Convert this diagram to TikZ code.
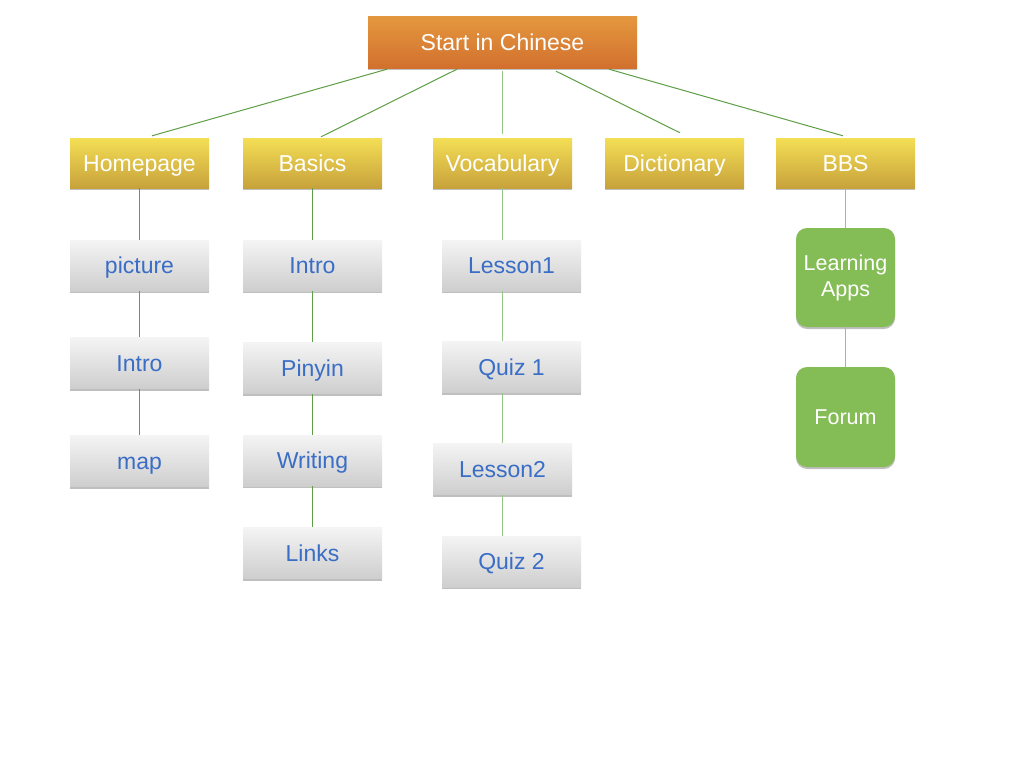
\documentclass[tikz,border=0pt]{standalone}
\usepackage{fontspec}
\setmainfont{Liberation Sans}
\usetikzlibrary{shadows,calc}
\definecolor{orgtop}{HTML}{E4973E}
\definecolor{orgbot}{HTML}{D2702E}
\definecolor{yeltop}{HTML}{F4DE55}
\definecolor{yelbot}{HTML}{C7A23B}
\definecolor{grytop}{HTML}{F4F4F4}
\definecolor{grybot}{HTML}{CECECE}
\definecolor{leaftext}{HTML}{3A6DC5}
\definecolor{appgreen}{HTML}{84BD55}
\definecolor{linkgreen}{HTML}{5E9E46}
\definecolor{linklight}{HTML}{94C585}
\tikzset{
  boxshadow/.style={drop shadow={shadow xshift=0pt,shadow yshift=-2pt,opacity=0.25,fill=black}},
  boxtext/.style={font=\fontsize{23}{26}\selectfont,text height=16.5pt,text depth=0pt},
  topbox/.style={rectangle,minimum width=269pt,minimum height=51pt,inner sep=0pt,
    top color=orgtop,bottom color=orgbot,draw=none,text=white,boxtext,boxshadow},
  catbox/.style={rectangle,minimum width=139pt,minimum height=50pt,inner sep=0pt,
    top color=yeltop,bottom color=yelbot,draw=none,text=white,boxtext,boxshadow},
  leafbox/.style={rectangle,minimum width=139pt,minimum height=51pt,inner sep=0pt,
    top color=grytop,bottom color=grybot,draw=none,text=leaftext,boxtext,boxshadow},
  appbox/.style={rectangle,rounded corners=11pt,minimum width=99pt,minimum height=99pt,inner sep=0pt,
    fill=appgreen,draw=none,text=white,align=center,
    font=\fontsize{21.5}{26}\selectfont,boxshadow},
  link/.style={draw=linkgreen,line width=1pt},
  linkl/.style={draw=linklight,line width=1pt}
}
\begin{document}
\begin{tikzpicture}[x=1pt,y=-1pt]
\useasboundingbox[fill=white] (0,0) rectangle (1024,768);
% nodes
\node[topbox] (top) at (502.5,42.5) {Start in Chinese};
\node[catbox] (home) at (139.5,163) {Homepage};
\node[catbox] (basics) at (312.5,163) {Basics};
\node[catbox] (vocab) at (502.5,163) {Vocabulary};
\node[catbox] (dict) at (674.5,163) {Dictionary};
\node[catbox] (bbs) at (845.5,163) {BBS};
\node[leafbox] (picture) at (139.5,265.5) {picture};
\node[leafbox] (hintro) at (139.5,363) {Intro};
\node[leafbox] (map) at (139.5,461) {map};
\node[leafbox] (bintro) at (312.5,265.5) {Intro};
\node[leafbox] (pinyin) at (312.5,368) {Pinyin};
\node[leafbox] (writing) at (312.5,460.5) {Writing};
\node[leafbox] (links) at (312.5,553) {Links};
\node[leafbox] (lesson1) at (511.5,265.5) {Lesson1};
\node[leafbox] (quiz1) at (511.5,367) {Quiz 1};
\node[leafbox] (lesson2) at (502.5,469) {Lesson2};
\node[leafbox] (quiz2) at (511.5,561.5) {Quiz 2};
\node[appbox] (apps) at (845.5,277.5) {Learning\\Apps};
\node[appbox,minimum height=100pt] (forum) at (845.5,417) {Forum};
% top connectors
\draw[link] ([xshift=-115.5pt,yshift=-1pt]top.south) -- ([xshift=12.5pt,yshift=2pt]home.north);
\draw[link] ([xshift=-45.5pt,yshift=-1pt]top.south) -- ([xshift=8.5pt,yshift=1pt]basics.north);
\draw[linkl] ([yshift=-3pt]top.south) -- ([yshift=4pt]vocab.north);
\draw[link] ([xshift=53.5pt,yshift=-3pt]top.south) -- ([xshift=5.5pt,yshift=5pt]dict.north);
\draw[link] ([xshift=106.5pt,yshift=-1pt]top.south) -- ([xshift=-2.5pt,yshift=2pt]bbs.north);
% homepage column
\draw[link] (home.south) -- (picture.north);
\draw[link] (picture.south) -- (hintro.north);
\draw[link] (hintro.south) -- (map.north);
% basics column
\draw[link] (basics.south) -- (bintro.north);
\draw[link] (bintro.south) -- (pinyin.north);
\draw[link] (pinyin.south) -- (writing.north);
\draw[link] (writing.south) -- (links.north);
% vocabulary column
\draw[linkl] (vocab.south) -- (vocab.south |- lesson1.north);
\draw[linkl] (vocab.south |- lesson1.south) -- (vocab.south |- quiz1.north);
\draw[linkl] (vocab.south |- quiz1.south) -- (lesson2.north);
\draw[linkl] (lesson2.south) -- (vocab.south |- quiz2.north);
% bbs column
\draw[linkl] (bbs.south) -- (apps.north);
\draw[linkl] (apps.south) -- (forum.north);
\end{tikzpicture}
\end{document}
